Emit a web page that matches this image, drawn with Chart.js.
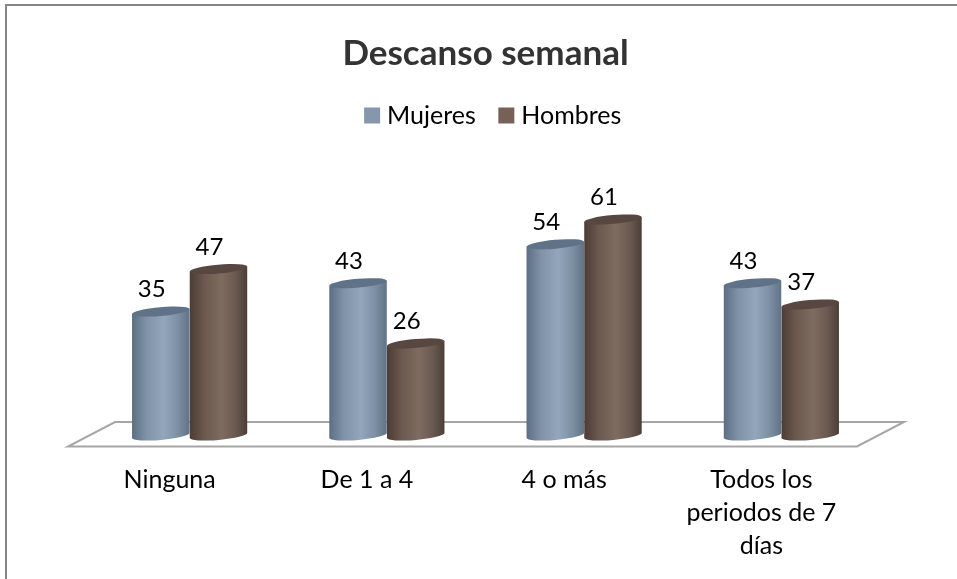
<!DOCTYPE html>
<html><head><meta charset="utf-8">
<style>html,body{margin:0;padding:0;background:#fff}canvas{display:block}</style>
<script src="https://cdn.jsdelivr.net/npm/chart.js@4"></script>
</head><body><canvas id="c" width="957" height="579"></canvas>
<script>
const categories = [["Ninguna"], ["De 1 a 4"], ["4 o más"], ["Todos los", "periodos de 7", "días"]];
const mujeres = [35, 43, 54, 43];
const hombres = [47, 26, 61, 37];
const seriesNames = ["Mujeres", "Hombres"];
const legendColors = ["#8497ac", "#766157"];
const bodyStops = [
  [[0, "#5b6e83"], [0.25, "#7f92a7"], [0.55, "#93a6bb"], [0.8, "#7c8fa3"], [1, "#5f7286"]],
  [[0, "#4b3c35"], [0.25, "#6b584e"], [0.55, "#7f6c60"], [0.8, "#695950"], [1, "#4c3e37"]]
];
const capColors = ["#5f7287", "#574740"];
const TILT = -5 * Math.PI / 180, RY = 4.4;

const cylinders = {
  id: "cylinders",
  afterLayout(chart) {
    chart.legend.left += 10;
    chart.legend.right += 10;
  },
  beforeDatasetDraw(chart, args) {
    const ctx = chart.ctx, i = args.index;
    chart.getDatasetMeta(i).data.forEach(el => {
      const rx = el.width / 2, x = el.x, top = el.y, base = el.base;
      const dx = rx * Math.cos(TILT), dy = rx * Math.sin(TILT);
      const g = ctx.createLinearGradient(x - rx, 0, x + rx, 0);
      bodyStops[i].forEach(s => g.addColorStop(s[0], s[1]));
      ctx.save();
      ctx.fillStyle = g;
      ctx.beginPath();
      ctx.moveTo(x - dx, top - dy);
      ctx.lineTo(x - dx, base - dy);
      ctx.ellipse(x, base, rx, RY, TILT, Math.PI, 0, true);
      ctx.lineTo(x + dx, top + dy);
      ctx.closePath();
      ctx.fill();
      ctx.fillStyle = capColors[i];
      ctx.beginPath();
      ctx.ellipse(x, top, rx, RY, TILT, 0, Math.PI * 2);
      ctx.fill();
      ctx.restore();
    });
    return false;
  },
  afterDatasetsDraw(chart) {
    const ctx = chart.ctx;
    ctx.save();
    ctx.fillStyle = "#000";
    ctx.font = "24px Lato";
    ctx.textAlign = "center";
    ctx.textBaseline = "middle";
    chart.data.datasets.forEach((ds, i) => {
      chart.getDatasetMeta(i).data.forEach((el, j) => {
        ctx.fillText(String(ds.data[j]), el.x - 9, el.y - 22);
      });
    });
    ctx.restore();
  }
};

const frameAndFloor = {
  id: "frameAndFloor",
  beforeDraw(chart) {
    const ctx = chart.ctx, a = chart.chartArea;
    const y0 = chart.scales.y.getPixelForValue(0);
    ctx.save();
    ctx.strokeStyle = "#868686";
    ctx.lineWidth = 2;
    ctx.beginPath();
    ctx.moveTo(6, 579); ctx.lineTo(6, 5); ctx.lineTo(957, 5);
    ctx.stroke();
    ctx.strokeStyle = "#a6a6a6";
    ctx.lineWidth = 2;
    ctx.beginPath();
    ctx.moveTo(a.left + 24, y0 - 13.5);
    ctx.lineTo(a.right + 24, y0 - 13.5);
    ctx.lineTo(a.right - 23, y0 + 11);
    ctx.lineTo(a.left - 23, y0 + 11);
    ctx.closePath();
    ctx.stroke();
    ctx.restore();
  }
};

new Chart(document.getElementById("c"), {
  type: "bar",
  data: {
    labels: categories,
    datasets: [
      { label: seriesNames[0], data: mujeres, backgroundColor: legendColors[0], borderColor: legendColors[0], borderWidth: 11 },
      { label: seriesNames[1], data: hombres, backgroundColor: legendColors[1], borderColor: legendColors[1], borderWidth: 11 }
    ]
  },
  plugins: [frameAndFloor, cylinders],
  options: {
    responsive: false,
    animation: false,
    layout: { padding: { left: 91, right: 77, top: 33, bottom: 0 } },
    datasets: { bar: { barPercentage: 1, categoryPercentage: 0.585 } },
    plugins: {
      tooltip: { enabled: false },
      title: {
        display: true, text: "Descanso semanal", color: "#333333",
        font: { family: "Lato", size: 35, weight: "bold" },
        padding: { top: 0, bottom: 0 }
      },
      legend: {
        display: true, position: "top",
        labels: { boxWidth: 5, boxHeight: 5, color: "#000", padding: 28,
                  font: { family: "Lato", size: 25 } }
      }
    },
    scales: {
      x: {
        grid: { display: false }, border: { display: false },
        afterFit(s) { s.height = 143.5; },
        ticks: { color: "#000", font: { family: "Lato", size: 25, lineHeight: 1.32 },
                 padding: 20, labelOffset: -20, maxRotation: 0, autoSkip: false }
      },
      y: { display: false, min: 0, max: 84 }
    }
  }
});
</script></body></html>
